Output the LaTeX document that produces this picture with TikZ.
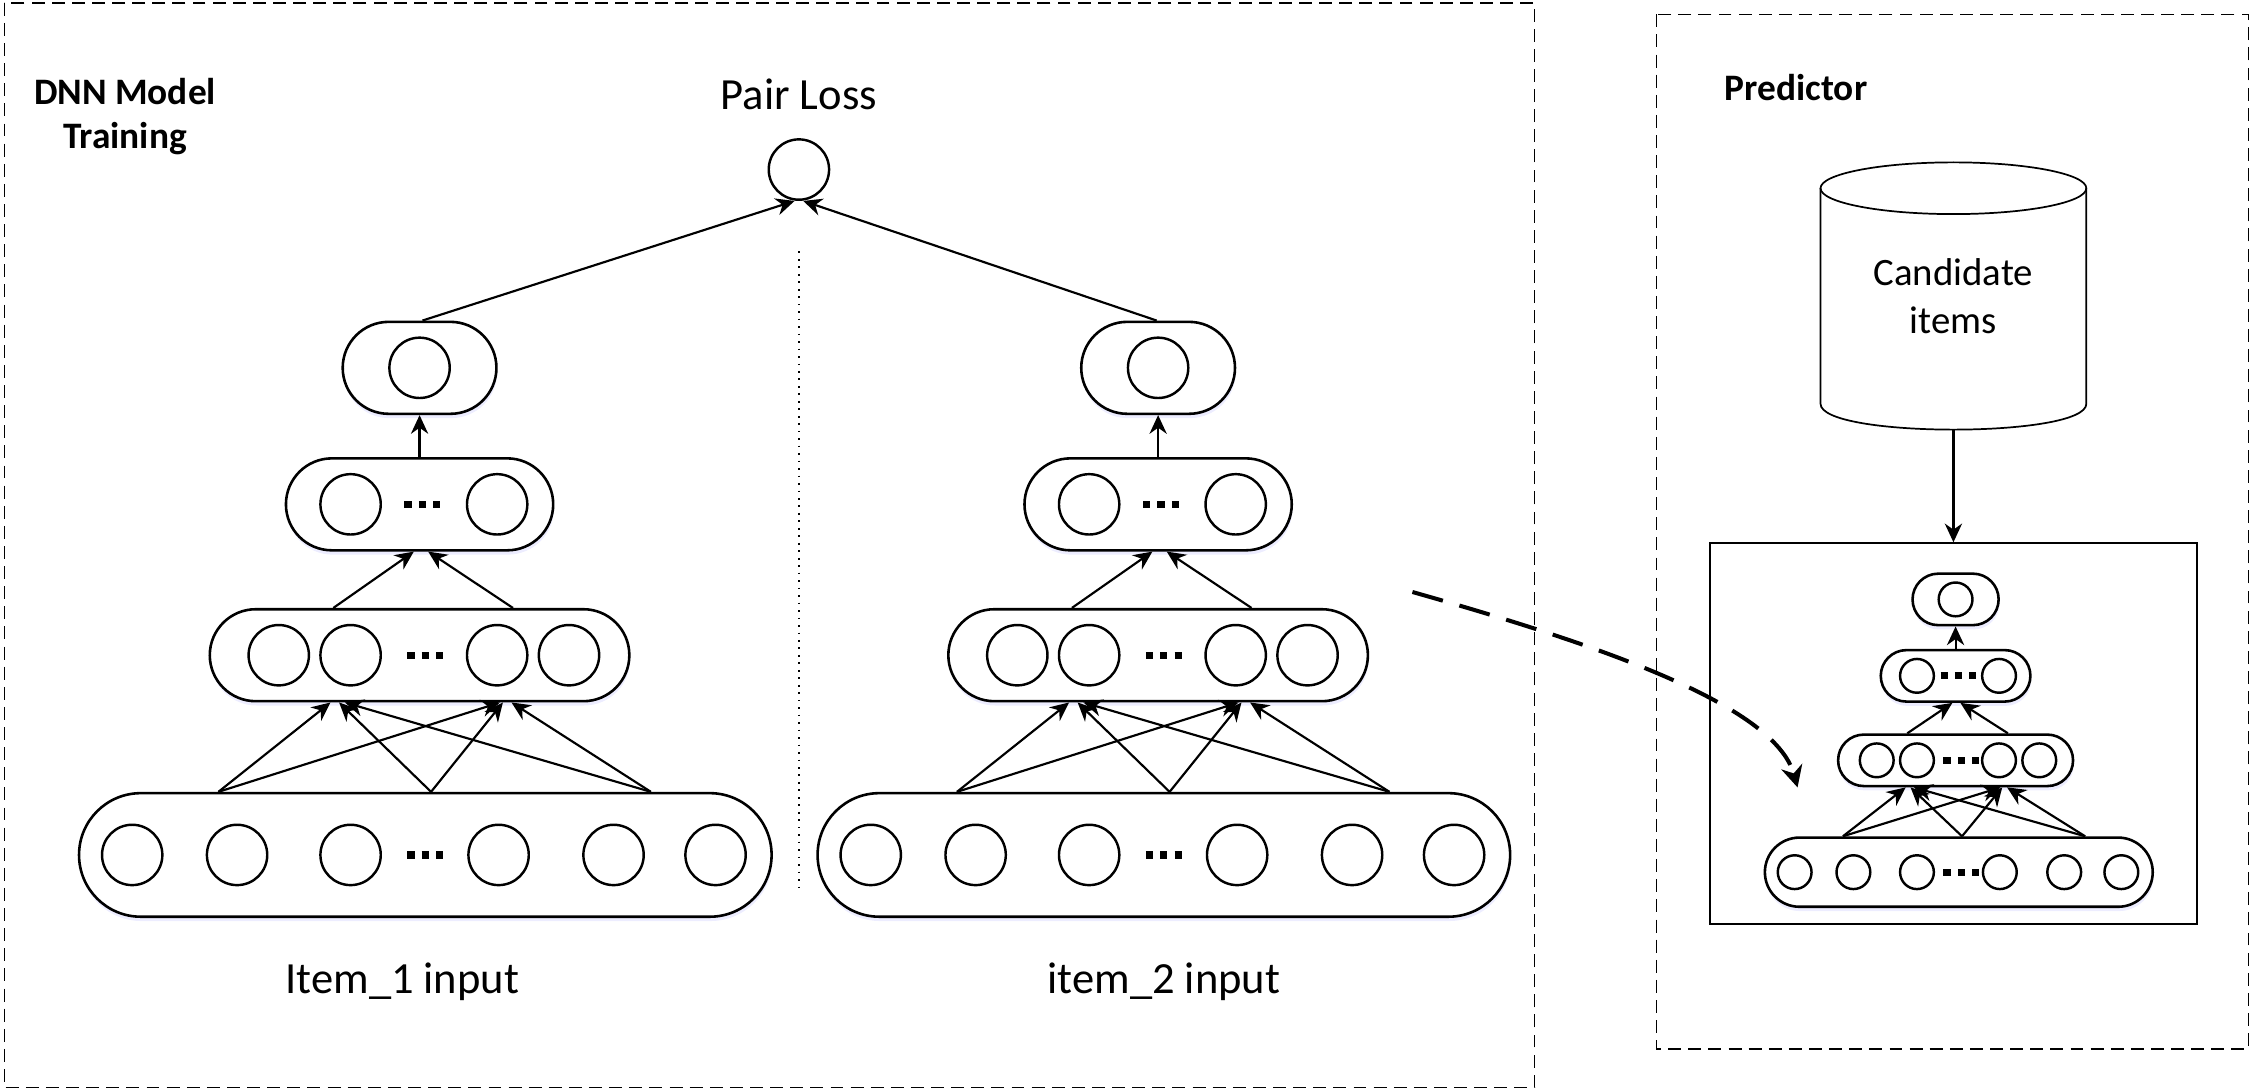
\documentclass[tikz,border=0pt]{standalone}
\usepackage{fontspec}
\setmainfont{Carlito}
\usepackage{tikz}
\usetikzlibrary{shapes.misc, arrows.meta, positioning, shadows}
\tikzstyle{layer} = [rounded rectangle, draw, line width=1.8pt, inner sep=0pt, fill=white,
    drop shadow={shadow xshift=0.5pt, shadow yshift=-3pt, fill=blue!20!white, opacity=0.35}]
\tikzstyle{unit} = [circle, draw, line width=1.7pt, inner sep=0pt]
\tikzstyle{conn} = [line width=1.5pt, -{Stealth[length=13pt,width=12pt]}]
\tikzstyle{ellip} = [line width=5pt, dash pattern=on 5pt off 5pt]
\tikzstyle{group} = [line width=1pt, dash pattern=on 9pt off 5pt]
\tikzstyle{flow} = [line width=2.8pt, dash pattern=on 22pt off 12pt, -{Stealth[length=15pt,width=15pt]}]
\tikzstyle{lbl} = [inner sep=0pt, font=\fontsize{31}{37}\selectfont]
\tikzstyle{heading} = [inner sep=0pt, align=center, font=\bfseries\fontsize{26}{31}\selectfont]

\begin{document}
\begin{tikzpicture}[x=1pt, y=-1pt]
    \useasboundingbox (0,0) rectangle (1568,759);

    % the two dashed frames
    \draw[group] (3,2) rectangle (1068,757);
    \draw[group] (1153,10) rectangle (1565,730);
    \node[heading] (train) at (87,81) {DNN Model\\Training};
    \node[heading] (pred) at (1250,61) {Predictor};

    % the box round the predicting net
    \node[draw, line width=1.2pt, inner sep=0pt, minimum width=339pt, minimum height=265pt] (predbox) at (1359.5,510.5) {};

    % three nets: name / centre x / input row y / scale
    \foreach \nm/\cx/\cy/\s in {L/292/595/1, R/806/595/1, P/1361/607/0.56}{
        \pgfmathsetmacro\usz{42*\s}
        % layers
        \node[layer, minimum width=482pt*\s, minimum height=86pt*\s] (\nm-in) at (\cx+4*\s,\cy) {};
        \node[layer, minimum width=292pt*\s, minimum height=64pt*\s] (\nm-h1) at (\cx,\cy-139*\s) {};
        \node[layer, minimum width=186pt*\s, minimum height=64pt*\s] (\nm-h2) at (\cx,\cy-244*\s) {};
        \node[layer, minimum width=107pt*\s, minimum height=64pt*\s] (\nm-out) at (\cx,\cy-339*\s) {};

        % units
        \foreach \dx [count=\i] in {-200,-127,-48,55,135,206}
            \node[unit, minimum size=\usz pt] (\nm-in-\i) at (\cx+\dx*\s,\cy) {};
        \foreach \dx [count=\i] in {-98,-48,54,104}
            \node[unit, minimum size=\usz pt] (\nm-h1-\i) at (\cx+\dx*\s,\cy-139*\s) {};
        \foreach \dx [count=\i] in {-48,54}
            \node[unit, minimum size=\usz pt] (\nm-h2-\i) at (\cx+\dx*\s,\cy-244*\s) {};
        \node[unit, minimum size=\usz pt] (\nm-out-1) at (\nm-out) {};

        % ...
        \draw[ellip] (\cx-8.5,\cy) -- (\cx+16.5,\cy);
        \draw[ellip] (\cx-8.5,\cy-139*\s) -- (\cx+16.5,\cy-139*\s);
        \draw[ellip] (\cx-10.5,\cy-244*\s) -- (\cx+14.5,\cy-244*\s);

        % connections
        \foreach \sx/\tx in {-144/-62, 4/-56, 157/-52, -144/56, 4/58, 157/64}
            \draw[conn] ([xshift=\sx pt*\s]\nm-in.north) -- ([xshift=\tx pt*\s]\nm-h1.south);
        \foreach \sx/\tx in {-60/-4, 65/6}
            \draw[conn] ([xshift=\sx pt*\s]\nm-h1.north) -- ([xshift=\tx pt*\s]\nm-h2.south);
        \draw[conn] (\nm-h2) -- (\nm-out);
    }

    % pair loss on top
    \node[unit, minimum size=42pt] (loss) at (556,118) {};
    \node[lbl] (losstxt) at (556,66) {Pair Loss};
    \draw[conn] ([xshift=2pt]L-out.north) -- ([xshift=-3pt]loss.south);
    \draw[conn] ([xshift=-1pt]R-out.north) -- ([xshift=3pt]loss.south);
    \draw[line width=1.2pt, dash pattern=on 1.2pt off 4pt] (556,175) -- (556,622);

    \node[lbl] (in1) at (280,683) {Item\_1 input};
    \node[lbl] (in2) at (810,683) {item\_2 input};

    % candidate store
    \draw[line width=1.2pt] (1267,131) -- (1267,281) .. controls (1267,305) and (1452,305) .. (1452,281) -- (1452,131);
    \draw[line width=1.2pt] (1359.5,131) ellipse [x radius=92.5, y radius=18];
    \node[inner sep=0pt, align=center, font=\fontsize{27}{33}\selectfont] (db) at (1359.5,206) {Candidate\\items};
    \coordinate (dbbot) at (1359.5,299);
    \draw[conn] (dbbot) -- (predbox.north);

    % trained model goes to the predictor
    \coordinate (fs) at (983,412);
    \coordinate (fe) at (1251,548);
    \draw[flow] (fs) .. controls (1110,448) and (1235,490) .. (fe);
\end{tikzpicture}
\end{document}
